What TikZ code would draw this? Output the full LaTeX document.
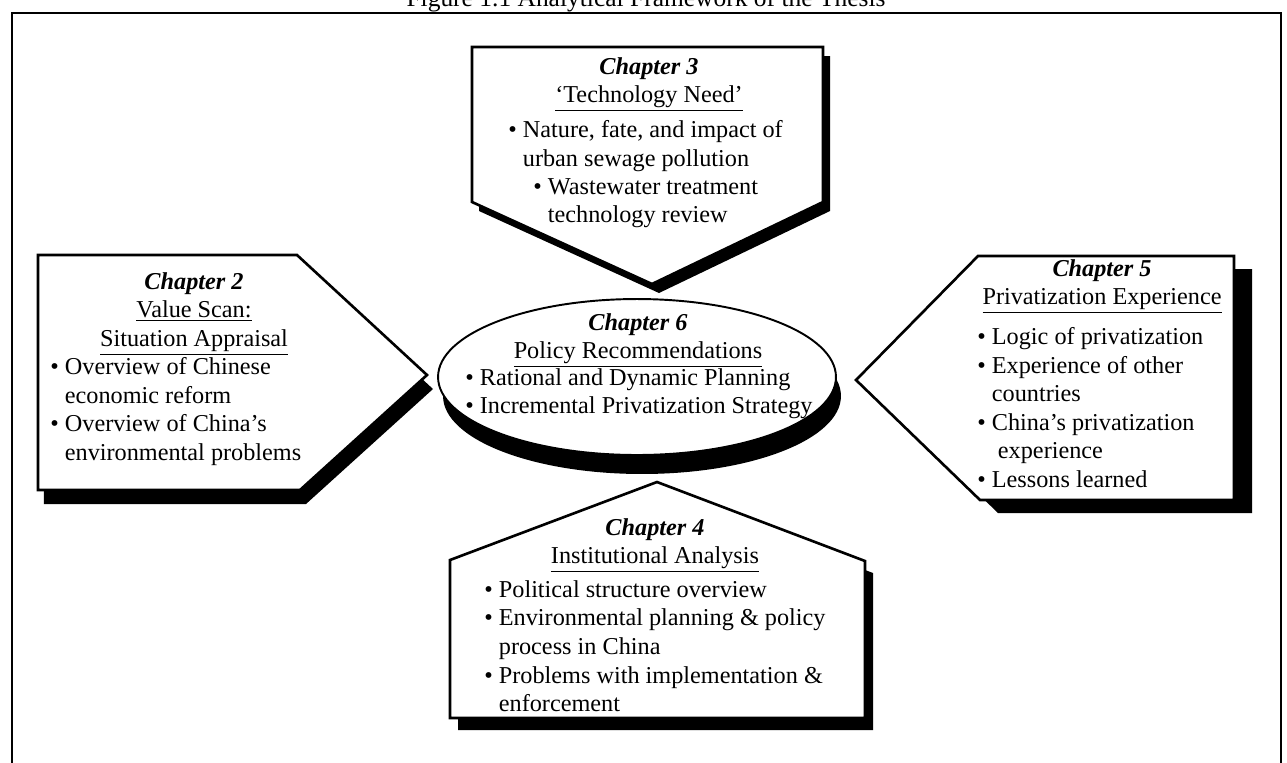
\documentclass[tikz,border=0pt]{standalone}
\usepackage{fontspec}
\setmainfont{Liberation Serif}
\usetikzlibrary{shadows}

\begin{document}
\begin{tikzpicture}[
        x=0.02cm, y=-0.02cm,
        every node/.style={font=\fontsize{13.8}{16.3}\selectfont, inner sep=0pt},
        frame/.style={draw=black, line width=1.6pt},
        chapbox/.style={draw=black, line width=1.5pt, fill=white, line join=miter},
        blackshadow/.style 2 args={drop shadow={shadow xshift=#1, shadow yshift=#2, fill=black, opacity=1}},
        heading/.style={align=center, anchor=north},
        bullets/.style={align=left, anchor=north west}
    ]
        \clip (0,0) rectangle (1287,762);

        % Frame and title
        \node[anchor=base, font=\fontsize{14.5}{17}\selectfont] (title) at (646,6) {Figure 1.1 Analytical Framework of the Thesis};
        \draw[frame] (12,800) -- (12,13) -- (1281,13) -- (1281,800);

        % Chapter 6 (centre)
        \path[chapbox, line width=1.1pt, blackshadow={0.1cm}{-0.38cm}] (637,377) ellipse [x radius=3.98cm, y radius=1.56cm];
        \node[heading] (ch6head) at (638,313) {\textbf{\textit{Chapter 6}}\\\underline{Policy Recommendations}};
        \node[bullets] (ch6list) at (465,368) {\textbullet~Rational and Dynamic Planning\\\textbullet~Incremental Privatization Strategy};

        % Chapter 3 (top)
        \path[chapbox, blackshadow={0.14cm}{-0.18cm}] (472,47) -- (823,47) -- (823,202) -- (652,284) -- (472,202) -- cycle;
        \node[heading] (ch3head) at (649,57) {\textbf{\textit{Chapter 3}}\\\underline{`Technology Need'}};
        \node[bullets] (ch3a) at (508,120) {\textbullet~Nature, fate, and impact of\\\phantom{\textbullet~}urban sewage pollution};
        \node[bullets] (ch3b) at (533,178) {\textbullet~Wastewater treatment\\\phantom{\textbullet~}technology review};

        % Chapter 2 (left)
        \path[chapbox, blackshadow={0.12cm}{-0.28cm}] (38,255) -- (297,255) -- (427,375) -- (300,490) -- (38,490) -- cycle;
        \node[heading] (ch2head) at (194,272) {\textbf{\textit{Chapter 2}}\\\underline{Value Scan:}\\\underline{Situation Appraisal}};
        \node[bullets] (ch2list) at (50,357) {\textbullet~Overview of Chinese\\\phantom{\textbullet~}economic reform\\\textbullet~Overview of China's\\\phantom{\textbullet~}environmental problems};

        % Chapter 5 (right)
        \path[chapbox, blackshadow={0.36cm}{-0.26cm}] (856,380) -- (978,256) -- (1234,256) -- (1234,500) -- (980,500) -- cycle;
        \node[heading] (ch5head) at (1102,259) {\textbf{\textit{Chapter 5}}\\\underline{Privatization Experience}};
        \node[bullets] (ch5list) at (977,327) {\textbullet~Logic of privatization\\\textbullet~Experience of other\\\phantom{\textbullet~}countries\\\textbullet~China's privatization\\\phantom{\textbullet~}~experience\\\textbullet~Lessons learned};

        % Chapter 4 (bottom)
        \path[chapbox, blackshadow={0.16cm}{-0.24cm}] (657,482) -- (865,561) -- (865,718) -- (450,718) -- (450,560) -- cycle;
        \node[heading] (ch4head) at (655,518) {\textbf{\textit{Chapter 4}}\\\underline{Institutional Analysis}};
        \node[bullets] (ch4list) at (484,580) {\textbullet~Political structure overview\\\textbullet~Environmental planning \& policy\\\phantom{\textbullet~}process in China\\\textbullet~Problems with implementation \&\\\phantom{\textbullet~}enforcement};

    \end{tikzpicture}
\end{document}
